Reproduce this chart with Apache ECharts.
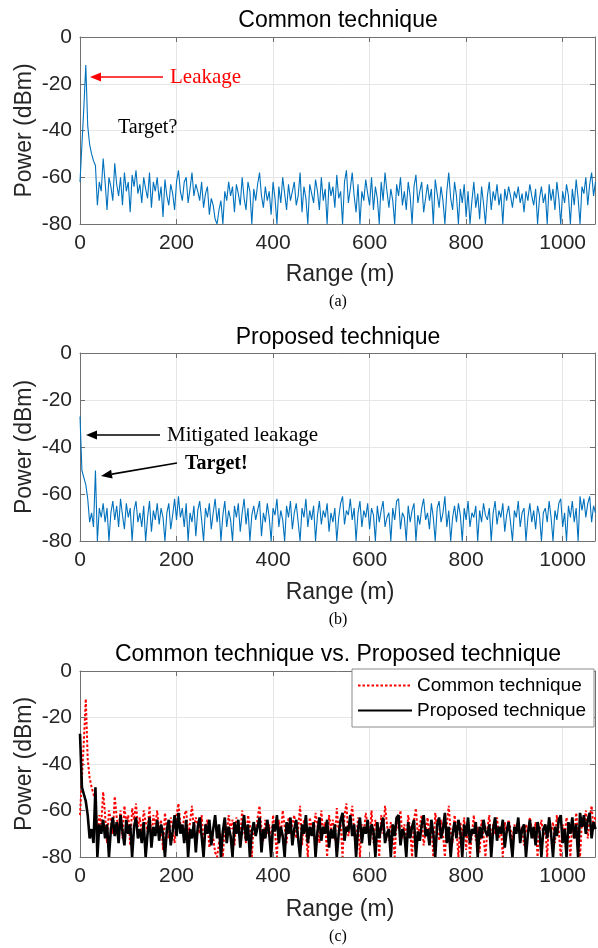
<!DOCTYPE html>
<html>
<head>
<meta charset="utf-8">
<script src="https://cdn.jsdelivr.net/npm/echarts@6/dist/echarts.min.js"></script>
<style>
html,body{margin:0;padding:0;background:#fff;}
#chart{width:598px;height:948px;}
</style>
</head>
<body>
<div id="chart"></div>
<script>
// Range sampling step (m) and axis ticks
const rangeStep = 4;
const xTicks = [0, 200, 400, 600, 800, 1000];
const yTicks = [0, -20, -40, -60, -80];

// Common technique power (dBm), sampled every 4 m from 0 m
const commonPower = [
  -62,-46,-30,-12,-38,-46,-50,-53,-55,-72,-62,
  -66,-52,-62,-74,-60,-64,-70,-54,-63,-68,
  -60,-72,-58,-66,-62,-75,-59,-64,-57,-67,
  -63,-71,-60,-65,-69,-58,-73,-62,-66,-60,
  -70,-64,-77,-61,-68,-72,-63,-67,-74,-62,
  -57,-66,-70,-62,-60,-71,-65,-58,-68,-63,
  -66,-70,-62,-73,-67,-64,-76,-69,-72,-78,
  -80,-74,-70,-80,-66,-70,-62,-68,-64,-75,
  -63,-67,-72,-60,-69,-74,-62,-66,-80,-65,
  -70,-63,-58,-68,-73,-64,-70,-66,-76,-62,
  -69,-80,-64,-71,-60,-67,-74,-63,-70,-66,
  -62,-72,-68,-58,-75,-64,-69,-80,-63,-67,
  -71,-61,-66,-74,-60,-70,-65,-80,-62,-68,
  -64,-73,-59,-69,-66,-80,-62,-57,-71,-65,
  -58,-68,-75,-63,-80,-66,-70,-61,-67,-72,
  -60,-74,-64,-69,-80,-62,-70,-58,-66,-73,
  -65,-70,-80,-63,-68,-60,-72,-66,-74,-62,
  -68,-80,-64,-59,-71,-66,-62,-75,-69,-63,
  -70,-65,-80,-61,-67,-73,-64,-70,-80,-66,
  -58,-69,-74,-62,-68,-80,-65,-71,-63,-77,
  -66,-80,-70,-62,-73,-67,-78,-64,-71,-80,
  -68,-62,-74,-66,-70,-63,-72,-67,-80,-65,
  -70,-64,-68,-73,-66,-69,-64,-71,-67,-75,
  -66,-70,-63,-68,-72,-65,-80,-69,-64,-71,
  -67,-80,-63,-70,-65,-74,-62,-69,-80,-66,
  -71,-63,-68,-80,-65,-72,-61,-69,-80,-64,
  -67,-60,-72,-63,-58,-68,-62
];

// Proposed technique power (dBm), sampled every 4 m from 0 m
const proposedPower = [
  -27,-50,-53,-56,-62,-72,-68,-74,-50,-80,-66,
  -70,-64,-72,-66,-80,-68,-63,-71,-65,-74,
  -62,-69,-75,-64,-70,-66,-80,-67,-63,-72,
  -68,-74,-65,-80,-70,-63,-76,-67,-71,-64,
  -73,-66,-70,-80,-68,-64,-75,-69,-62,-71,
  -61,-70,-66,-74,-64,-80,-68,-72,-65,-78,
  -67,-63,-71,-80,-66,-70,-64,-75,-68,-62,
  -72,-66,-80,-69,-63,-74,-67,-71,-80,-65,
  -70,-64,-76,-68,-62,-73,-66,-80,-69,-65,
  -71,-67,-63,-78,-68,-72,-64,-70,-80,-66,
  -69,-62,-74,-67,-71,-80,-65,-70,-63,-75,
  -68,-64,-72,-80,-66,-70,-62,-74,-67,-71,
  -65,-80,-69,-63,-73,-67,-70,-64,-76,-68,
  -72,-66,-80,-70,-64,-61,-73,-67,-69,-62,
  -71,-66,-80,-68,-63,-74,-67,-70,-64,-75,
  -66,-69,-80,-65,-72,-67,-63,-74,-70,-68,
  -80,-66,-71,-63,-62,-75,-68,-70,-80,-65,
  -72,-67,-64,-80,-69,-73,-66,-62,-71,-68,
  -75,-64,-70,-80,-66,-63,-72,-68,-61,-74,
  -67,-80,-70,-65,-72,-64,-69,-80,-66,-71,
  -63,-74,-68,-70,-65,-80,-67,-72,-64,-69,
  -71,-66,-80,-68,-63,-73,-67,-70,-64,-76,
  -69,-65,-72,-80,-67,-70,-63,-74,-68,-66,
  -80,-70,-64,-72,-67,-75,-65,-69,-80,-68,
  -66,-72,-63,-70,-80,-67,-71,-64,-62,-74,
  -68,-80,-65,-70,-63,-72,-66,-80,-61,-67,
  -62,-70,-64,-61,-72,-65,-68
];

const titles = ['Common technique', 'Proposed technique', 'Common technique vs. Proposed technique'];
const panelLabels = ['(a)', '(b)', '(c)'];
const legendNames = ['Common technique', 'Proposed technique'];

const commonData = commonPower.map((v, i) => [i * rangeStep, v]);
const proposedData = proposedPower.map((v, i) => [i * rangeStep, v]);

const X_MAX = 1067;
const grids = [
  {left: 80, width: 517, top: 37, height: 187},
  {left: 80, width: 517, top: 353, height: 188},
  {left: 80, width: 517, top: 671, height: 186}
];
const sans = '"Liberation Sans", Arial, Helvetica, sans-serif';
const serif = '"Liberation Serif", "Times New Roman", serif';
const axisCol = '#707070';
const tickTxt = '#262626';

const xAxes = [], yAxes = [];
grids.forEach((g, i) => {
  xAxes.push({
    type: 'value', gridIndex: i, position: 'bottom', min: 0, max: X_MAX, interval: 200,
    axisLine: {show: true, onZero: false, lineStyle: {color: axisCol, width: 1}},
    axisTick: {show: true, inside: true, length: 5, lineStyle: {color: axisCol}},
    axisLabel: {show: true, margin: 9, color: tickTxt, fontSize: 21, fontFamily: sans,
      formatter: v => (xTicks.indexOf(v) >= 0 ? String(v) : '')},
    splitLine: {show: true, lineStyle: {color: '#e6e6e6', width: 1}}
  });
  xAxes.push({
    type: 'value', gridIndex: i, position: 'top', min: 0, max: X_MAX, interval: 200,
    axisLine: {show: true, onZero: false, lineStyle: {color: axisCol, width: 1}},
    axisTick: {show: true, inside: true, length: 5, lineStyle: {color: axisCol}},
    axisLabel: {show: false}, splitLine: {show: false}
  });
  yAxes.push({
    type: 'value', gridIndex: i, position: 'left', min: -80, max: 0, interval: 20,
    axisLine: {show: true, onZero: false, lineStyle: {color: axisCol, width: 1}},
    axisTick: {show: true, inside: true, length: 5, lineStyle: {color: axisCol}},
    axisLabel: {show: true, margin: 8, color: tickTxt, fontSize: 21, fontFamily: sans,
      formatter: v => (yTicks.indexOf(v) >= 0 ? String(v) : '')},
    splitLine: {show: true, lineStyle: {color: '#e6e6e6', width: 1}}
  });
  yAxes.push({
    type: 'value', gridIndex: i, position: 'right', min: -80, max: 0, interval: 20,
    axisLine: {show: true, onZero: false, lineStyle: {color: axisCol, width: 1}},
    axisTick: {show: true, inside: true, length: 5, lineStyle: {color: axisCol}},
    axisLabel: {show: false}, splitLine: {show: false}
  });
});

const blue = '#0072BD';
const series = [
  {name: 'a-common', type: 'line', xAxisIndex: 0, yAxisIndex: 0, data: commonData,
   symbol: 'none', lineStyle: {color: blue, width: 1.1}, itemStyle: {color: blue}, z: 3},
  {name: 'b-proposed', type: 'line', xAxisIndex: 2, yAxisIndex: 2, data: proposedData,
   symbol: 'none', lineStyle: {color: blue, width: 1.1}, itemStyle: {color: blue}, z: 3},
  {name: legendNames[0], type: 'line', xAxisIndex: 4, yAxisIndex: 4, data: commonData,
   symbol: 'none', lineStyle: {color: '#ff0000', width: 2, type: [2.5, 2]}, itemStyle: {color: '#ff0000'}, z: 3},
  {name: legendNames[1], type: 'line', xAxisIndex: 4, yAxisIndex: 4, data: proposedData,
   symbol: 'none', lineStyle: {color: '#000000', width: 2.6}, itemStyle: {color: '#000000'}, z: 4}
];

const graphics = [];
const titleY = [21, 338, 655];
const rangeLabelY = [275, 593, 910];
const panelY = [302, 620, 937];
grids.forEach((g, i) => {
  graphics.push({type: 'text', x: 338, y: titleY[i], style: {text: titles[i], font: '23px ' + sans,
    fill: '#000', textAlign: 'center', textVerticalAlign: 'middle'}});
  graphics.push({type: 'text', x: 340, y: rangeLabelY[i], style: {text: 'Range (m)', font: '23px ' + sans,
    fill: tickTxt, textAlign: 'center', textVerticalAlign: 'middle'}});
  graphics.push({type: 'text', x: 338, y: panelY[i], style: {text: panelLabels[i], font: '16px ' + serif,
    fill: '#000', textAlign: 'center', textVerticalAlign: 'middle'}});
  graphics.push({type: 'text', x: 25, y: g.top + g.height / 2, rotation: Math.PI / 2,
    style: {text: 'Power (dBm)', font: '23px ' + sans, fill: tickTxt, textAlign: 'center', textVerticalAlign: 'middle'}});
});

function arrow(x1, y1, x2, y2, color) {
  const ang = Math.atan2(y2 - y1, x2 - x1);
  const L = 11, W = 4.5;
  const bx = x2 - L * Math.cos(ang), by = y2 - L * Math.sin(ang);
  const px = -Math.sin(ang) * W, py = Math.cos(ang) * W;
  graphics.push({type: 'line', shape: {x1: x1, y1: y1, x2: bx, y2: by}, style: {stroke: color, lineWidth: 1.6}, z: 10});
  graphics.push({type: 'polygon', shape: {points: [[x2, y2], [bx + px, by + py], [bx - px, by - py]]},
    style: {fill: color}, z: 10});
}
// (a) annotations
arrow(163, 77, 90, 77, '#ff0000');
graphics.push({type: 'text', x: 170, y: 77, style: {text: 'Leakage', font: '21px ' + serif, fill: '#ff0000', textVerticalAlign: 'middle'}, z: 10});
graphics.push({type: 'text', x: 118, y: 128, style: {text: 'Target?', font: '20px ' + serif, fill: '#000', textVerticalAlign: 'middle'}, z: 10});
// (b) annotations
arrow(160, 435, 86, 435, '#000');
graphics.push({type: 'text', x: 167, y: 435, style: {text: 'Mitigated leakage', font: '21px ' + serif, fill: '#000', textVerticalAlign: 'middle'}, z: 10});
arrow(177, 463, 101, 476, '#000');
graphics.push({type: 'text', x: 185, y: 464, style: {text: 'Target!', font: 'bold 20px ' + serif, fill: '#000', textVerticalAlign: 'middle'}, z: 10});

const chart = echarts.init(document.getElementById('chart'), null, {renderer: 'canvas'});
chart.setOption({
  animation: false,
  backgroundColor: '#fff',
  grid: grids,
  xAxis: xAxes,
  yAxis: yAxes,
  legend: {
    data: legendNames, orient: 'vertical', left: 352, top: 669,
    backgroundColor: '#fff', borderColor: '#8c8c8c', borderWidth: 1, borderRadius: 0,
    padding: [7, 8, 7, 5], itemGap: 6, itemWidth: 54, itemHeight: 14, itemTextGap: 5,
    itemStyle: {opacity: 0},
    textStyle: {fontSize: 19, lineHeight: 19, fontFamily: sans, color: '#000'},
    selectedMode: false, z: 20
  },
  series: series,
  graphic: graphics
});
</script>
</body>
</html>
